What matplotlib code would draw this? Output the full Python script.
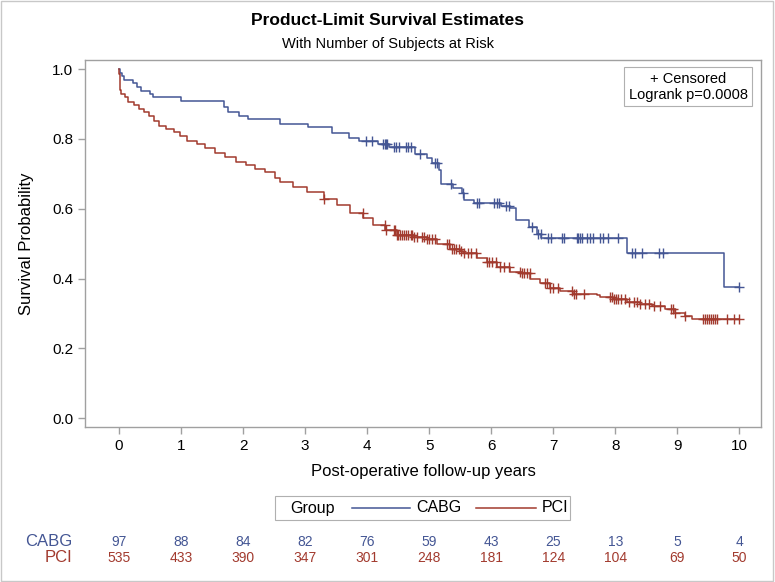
import matplotlib.pyplot as plt
import matplotlib.transforms as mtransforms
from matplotlib.lines import Line2D
from matplotlib.patches import Rectangle
import numpy as np

plt.rcParams['font.family'] = ['Liberation Sans', 'DejaVu Sans']

# CABG step curve (time in years, survival probability)
cabg_t = [0, 0.02, 0.05, 0.085, 0.23, 0.29, 0.35, 0.50, 0.55, 1.0, 1.69, 1.76, 1.93, 2.08,
          2.6, 3.05, 3.44, 3.71, 3.87, 4.17, 4.36, 4.77, 4.97, 5.05, 5.16, 5.19, 5.39, 5.53,
          5.56, 5.72, 6.15, 6.31, 6.40, 6.61, 6.74, 6.81, 8.19, 9.76, 10.0]
cabg_s = [1.0, 0.99, 0.98, 0.97, 0.96, 0.948, 0.938, 0.93, 0.919, 0.908, 0.892, 0.876, 0.866,
          0.856, 0.844, 0.835, 0.816, 0.804, 0.794, 0.785, 0.776, 0.758, 0.744, 0.73, 0.711,
          0.67, 0.66, 0.644, 0.625, 0.617, 0.607, 0.601, 0.567, 0.548, 0.529, 0.515, 0.472,
          0.377, 0.377]
cabg_cens = [3.98, 4.08, 4.26, 4.28, 4.30, 4.32, 4.44, 4.47, 4.52, 4.62, 4.66, 4.71, 4.85,
             5.10, 5.13, 5.35, 5.55, 5.77, 5.81, 6.05, 6.09, 6.13, 6.24, 6.28, 6.66, 6.76,
             6.80, 6.92, 6.96, 7.14, 7.17, 7.38, 7.40, 7.43, 7.46, 7.54, 7.60, 7.64, 7.76,
             7.80, 7.89, 8.05, 8.27, 8.32, 8.43, 8.71, 8.77, 9.99]

# PCI step curve
pci_t = [0, 0.005, 0.01, 0.02, 0.04, 0.09, 0.15, 0.24, 0.32, 0.40, 0.48, 0.56, 0.64, 0.75,
         0.88, 0.99, 1.10, 1.26, 1.39, 1.55, 1.71, 1.88, 2.04, 2.20, 2.36, 2.52, 2.60, 2.81,
         3.03, 3.30, 3.51, 3.73, 3.94, 4.10, 4.29, 4.48, 4.75, 4.96, 5.12, 5.34, 5.50, 5.55,
         5.77, 5.93, 6.09, 6.31, 6.50, 6.63, 6.79, 6.95, 7.11, 7.32, 7.70, 7.76, 7.97, 8.19,
         8.40, 8.59, 8.80, 8.96, 9.12, 9.23, 10.0]
pci_s = [1.0, 0.985, 0.954, 0.94, 0.93, 0.919, 0.906, 0.897, 0.887, 0.878, 0.866, 0.851,
         0.837, 0.828, 0.82, 0.809, 0.794, 0.784, 0.774, 0.761, 0.749, 0.734, 0.725, 0.715,
         0.704, 0.689, 0.677, 0.661, 0.648, 0.628, 0.61, 0.587, 0.572, 0.553, 0.539, 0.526,
         0.518, 0.512, 0.50, 0.486, 0.479, 0.472, 0.46, 0.446, 0.434, 0.419, 0.415, 0.40,
         0.386, 0.373, 0.365, 0.355, 0.352, 0.348, 0.341, 0.333, 0.328, 0.322, 0.312, 0.302,
         0.292, 0.284, 0.284]
pci_cens = [3.30, 3.93, 4.28, 4.30, 4.43, 4.45, 4.48, 4.50, 4.53, 4.56, 4.60, 4.63, 4.66,
            4.70, 4.73, 4.76, 4.80, 4.88, 4.92, 4.96, 5.00, 5.05, 5.10, 5.28, 5.32, 5.36,
            5.40, 5.44, 5.48, 5.52, 5.56, 5.62, 5.68, 5.76, 5.93, 5.97, 6.02, 6.08, 6.14,
            6.20, 6.28, 6.47, 6.50, 6.53, 6.57, 6.62, 6.87, 6.90, 6.95, 7.00, 7.08, 7.30,
            7.33, 7.36, 7.49, 7.92, 7.95, 7.98, 8.01, 8.04, 8.10, 8.15, 8.22, 8.30, 8.35,
            8.40, 8.48, 8.55, 8.62, 8.72, 8.90, 8.93, 8.96, 9.13, 9.42, 9.45, 9.48, 9.51,
            9.54, 9.57, 9.60, 9.64, 9.80, 9.91, 10.0]

# numbers at risk
risk_years = [0, 1, 2, 3, 4, 5, 6, 7, 8, 9, 10]
cabg_risk = [97, 88, 84, 82, 76, 59, 43, 25, 13, 5, 4]
pci_risk = [535, 433, 390, 347, 301, 248, 181, 124, 104, 69, 50]

blue = '#445694'
red = '#A23A2E'
gray = '#A0A0A0'


def surv_at(times, t, s):
    idx = np.searchsorted(t, times, side='right') - 1
    return np.asarray(s)[idx]


fig = plt.figure(figsize=(7.75, 5.82), dpi=100)
ax = fig.add_axes([0.1097, 0.2668, 0.8723, 0.6301])

ax.step(cabg_t, cabg_s, where='post', color=blue, lw=1.1)
ax.step(pci_t, pci_s, where='post', color=red, lw=1.1)
ax.plot(cabg_cens, surv_at(cabg_cens, cabg_t, cabg_s), ls='none', marker='+',
        ms=6.5, mew=1.0, color=blue)
ax.plot(pci_cens, surv_at(pci_cens, pci_t, pci_s), ls='none', marker='+',
        ms=6.5, mew=1.0, color=red)

ax.set_xlim(-0.548, 10.35)
ax.set_ylim(-0.0245, 1.026)
ax.set_xticks(risk_years)
ax.set_yticks([0, 0.2, 0.4, 0.6, 0.8, 1.0])
ax.set_yticklabels(['0.0', '0.2', '0.4', '0.6', '0.8', '1.0'])
for sp in ax.spines.values():
    sp.set_color(gray)
    sp.set_linewidth(1.0)
ax.tick_params(colors=gray, labelcolor='black', labelsize=11, length=5, width=1)
ax.set_xlabel('Post-operative follow-up years', fontsize=12, labelpad=8)
ax.set_ylabel('Survival Probability', fontsize=12, labelpad=13)

fig.text(0.5, 0.965, 'Product-Limit Survival Estimates', ha='center', va='center',
         fontsize=12.5, fontweight='bold')
fig.text(0.5, 0.925, 'With Number of Subjects at Risk', ha='center', va='center',
         fontsize=10.5)

ax.text(0.9805, 0.968, '+ Censored\nLogrank p=0.0008', transform=ax.transAxes,
        ha='right', va='top', fontsize=10.5, multialignment='center',
        bbox=dict(boxstyle='square,pad=0.3', fc='white', ec='#B0B0B0', lw=0.8))

# bottom legend
fig.add_artist(Rectangle((275 / 775, 1 - 520 / 582), 295 / 775, 24 / 582,
                         transform=fig.transFigure, fill=False, ec='#B0B0B0', lw=0.8))
ly = 1 - 508 / 582
fig.text(290 / 775, ly, 'Group', ha='left', va='center', fontsize=11.5)
fig.add_artist(Line2D([352 / 775, 410 / 775], [ly, ly], color=blue, lw=1.1,
                      transform=fig.transFigure))
fig.text(416 / 775, ly, 'CABG', ha='left', va='center', fontsize=11.5)
fig.add_artist(Line2D([476 / 775, 536 / 775], [ly, ly], color=red, lw=1.1,
                      transform=fig.transFigure))
fig.text(542 / 775, ly, 'PCI', ha='left', va='center', fontsize=11.5)

# at-risk table
trans = mtransforms.blended_transform_factory(ax.transData, fig.transFigure)
y_cabg = 1 - 542 / 582
y_pci = 1 - 558 / 582
narrow = ['Liberation Sans Narrow', 'Liberation Sans', 'DejaVu Sans']
fig.text(72 / 775, y_cabg, 'CABG', ha='right', va='center', fontsize=12, color=blue)
fig.text(72 / 775, y_pci, 'PCI', ha='right', va='center', fontsize=12, color=red)
for x, a, b in zip(risk_years, cabg_risk, pci_risk):
    fig.text(x, y_cabg, str(a), transform=trans, ha='center', va='center',
             fontsize=10, color=blue, family=narrow)
    fig.text(x, y_pci, str(b), transform=trans, ha='center', va='center',
             fontsize=10, color=red, family=narrow)

fig.add_artist(Rectangle((0.001, 0.001), 0.997, 0.997, transform=fig.transFigure,
                         fill=False, ec='#C8C8C8', lw=1.0))

fig.savefig('out.png', dpi=100)
